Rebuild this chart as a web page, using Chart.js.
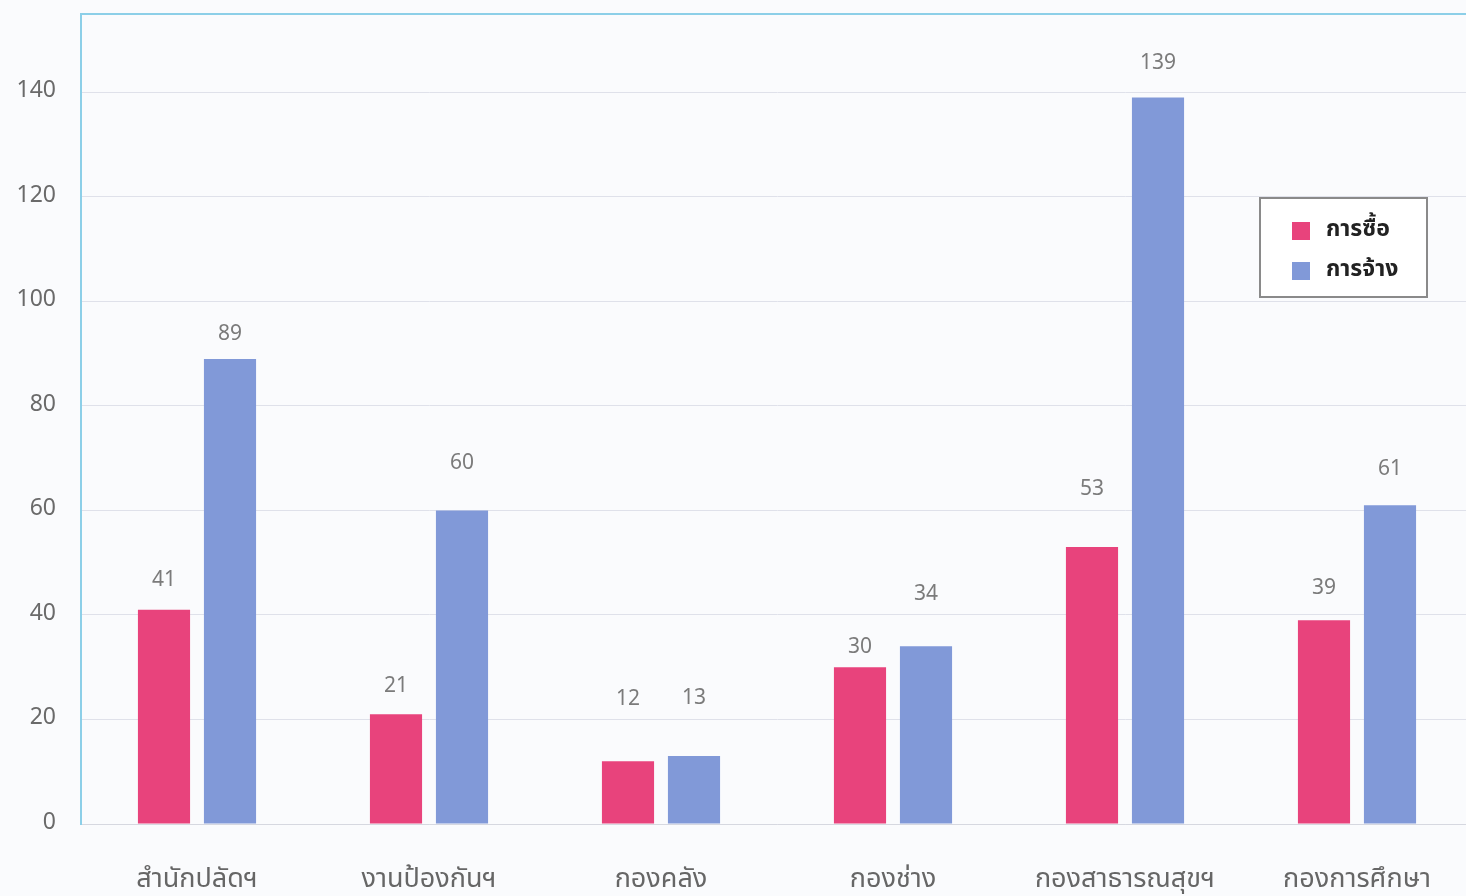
<!DOCTYPE html>
<html>
<head>
<meta charset="utf-8">
<script src="https://cdn.jsdelivr.net/npm/chart.js@4.4.1/dist/chart.umd.min.js"></script>
<style>
    html, body { margin: 0; padding: 0; overflow: hidden; background: #fafbfd; }
    #wrap { width: 1473px; height: 896px; position: relative; }
</style>
</head>
<body>
<div id="wrap"><canvas id="procChart"></canvas></div>
<script>
// categorias y valores
const categories = ['สำนักปลัดฯ', 'งานป้องกันฯ', 'กองคลัง', 'กองช่าง', 'กองสาธารณสุขฯ', 'กองการศึกษา'];
const purchaseValues = [41, 21, 12, 30, 53, 39];
const hireValues = [89, 60, 13, 34, 139, 61];
const yTicks = [0, 20, 40, 60, 80, 100, 120, 140];

const thaiFont = "'Noto Sans Thai', 'Tahoma', 'Noto Sans', 'DejaVu Sans', sans-serif";

// distancia de cada etiqueta sobre su barra (px), como en el original
const labelLift = [
    [28, 27, 61, 18, 56, 30],
    [23, 46, 56, 51, 33, 34]
];

// etiquetas encima de las barras
const valueLabels = {
    id: 'valueLabels',
    afterDatasetsDraw(chart) {
        const ctx = chart.ctx;
        ctx.save();
        ctx.font = '21px ' + thaiFont;
        ctx.fillStyle = '#7b7b7b';
        ctx.textAlign = 'center';
        ctx.textBaseline = 'middle';
        chart.data.datasets.forEach((ds, i) => {
            chart.getDatasetMeta(i).data.forEach((bar, j) => {
                ctx.fillText(ds.data[j], bar.x, bar.y - labelLift[i][j]);
            });
        });
        ctx.restore();
    }
};

// borde superior celeste
const topBorder = {
    id: 'topBorder',
    beforeDatasetsDraw(chart) {
        const a = chart.chartArea;
        const ctx = chart.ctx;
        ctx.save();
        ctx.strokeStyle = '#8ccfe8';
        ctx.lineWidth = 2;
        ctx.beginPath();
        ctx.moveTo(a.left, a.top);
        ctx.lineTo(a.right, a.top);
        ctx.stroke();
        ctx.restore();
    }
};

// leyenda dentro del grafico
const boxLegend = {
    id: 'boxLegend',
    afterDraw(chart) {
        const ctx = chart.ctx;
        ctx.save();
        ctx.fillStyle = '#ffffff';
        ctx.fillRect(1260, 198, 167, 99);
        ctx.strokeStyle = '#8a8a8a';
        ctx.lineWidth = 2;
        ctx.strokeRect(1260, 198, 167, 99);
        ctx.font = 'bold 23px ' + thaiFont;
        ctx.textBaseline = 'middle';
        chart.data.datasets.forEach((ds, i) => {
            const y = 231 + i * 40;
            ctx.fillStyle = ds.backgroundColor;
            ctx.fillRect(1292, y - 9, 18, 18);
            ctx.fillStyle = '#222222';
            ctx.fillText(ds.label, 1326, y);
        });
        ctx.restore();
    }
};

var ctxProc = document.getElementById('procChart').getContext('2d');
var procChart = new Chart(ctxProc, {
    type: 'bar',
    data: {
        labels: categories,
        datasets: [{
            label: 'การซื้อ',
            data: purchaseValues,
            backgroundColor: '#e8437c'
        }, {
            label: 'การจ้าง',
            data: hireValues,
            backgroundColor: '#8199d8'
        }]
    },
    options: {
        responsive: true,
        maintainAspectRatio: false,
        animation: false,
        categoryPercentage: 0.569,
        barPercentage: 0.79,
        layout: { padding: { top: 14, left: 10, right: 0, bottom: 0 } },
        plugins: {
            legend: { display: false },
            tooltip: { enabled: false }
        },
        scales: {
            x: {
                grid: { display: false },
                border: { color: '#d6d8e0', width: 1 },
                ticks: {
                    color: '#666666',
                    padding: 33,
                    font: { size: 27, family: thaiFont }
                },
                afterFit: s => { s.height = 72; s.paddingLeft = 0; s.paddingRight = 0; }
            },
            y: {
                min: 0,
                max: 155,
                afterBuildTicks: s => { s.ticks = yTicks.map(v => ({ value: v })); },
                grid: { color: '#dfe1ea', drawTicks: false },
                border: { color: '#8ccfe8', width: 2 },
                ticks: {
                    color: '#6a6a6a',
                    padding: 25,
                    font: { size: 23, family: thaiFont }
                },
                afterFit: s => { s.width = 71; s.paddingTop = 0; s.paddingBottom = 0; }
            }
        }
    },
    plugins: [valueLabels, topBorder, boxLegend]
});
</script>
</body>
</html>
